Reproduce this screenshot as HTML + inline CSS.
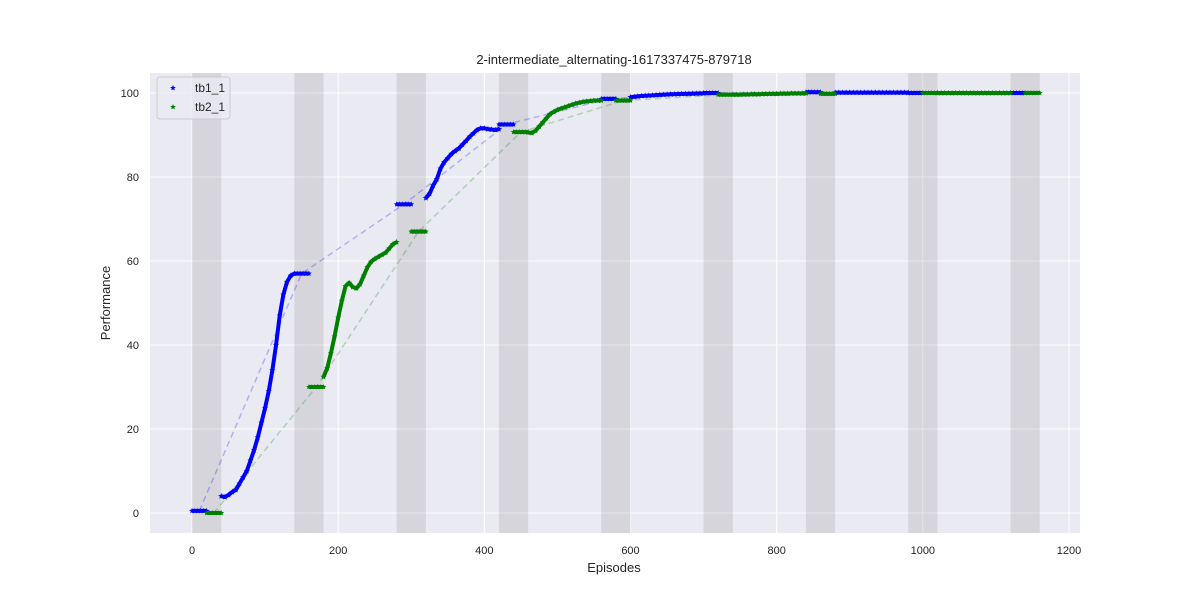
<!DOCTYPE html>
<html><head><meta charset="utf-8"><style>
body{margin:0;background:#fff;}
svg{display:block;font-family:"Liberation Sans","DejaVu Sans",sans-serif;}
</style></head><body>
<svg id="chart" width="1200" height="600" viewBox="0 0 1200 600">
<rect x="150" y="73" width="930" height="460" fill="#eaeaf2"/>
<g id="grid"></g><g id="bands"></g><g id="dashes"></g><g id="series"></g><g id="axes"></g>
<text x="614" y="64" text-anchor="middle" font-size="13" fill="#262626">2-intermediate_alternating-1617337475-879718</text>
<text x="614" y="572" text-anchor="middle" font-size="13" fill="#262626">Episodes</text>
<text x="110" y="303" text-anchor="middle" font-size="13" fill="#262626" transform="rotate(-90 110 303)">Performance</text>
<g>
<rect x="157" y="77" width="73" height="42" rx="3" fill="#eaeaf2" fill-opacity="0.8" stroke="#cccccc"/>
<g><polygon id="lg1" fill="#0000ff"/><text x="195" y="92" font-size="12" fill="#262626">tb1_1</text></g>
<g><polygon id="lg2" fill="#008000"/><text x="195" y="111" font-size="12" fill="#262626">tb2_1</text></g>
</g>
</svg>
<script>
// ---- data ----
const xTicks=[0,200,400,600,800,1000,1200];
const yTicks=[0,20,40,60,80,100];
const bandStarts=[0,140,280,420,560,700,840,980,1120];
// flat evaluation segments [start,end,value]
const tb1Flat=[[0,20,0.5],[140,160,57],[280,300,73.5],[420,440,92.5],[560,580,98.6],[700,720,100],[840,860,100.2],[980,1000,100],[1120,1140,100]];
const tb2Flat=[[20,40,0],[160,180,30],[300,320,67],[440,460,90.7],[580,600,98.2],[720,740,99.6],[860,880,99.8],[1000,1020,100],[1140,1160,100]];
// training segments: start episode, step 5, values
const tb1TrainStarts=[40,320,600,880];
const tb1TrainVals=[
[4,3.8,4.3,5,5.5,7,8.5,10,12.5,15,18,21.5,25,29,34,40,47,52,55,56.5,57],
[75,76,78,79.5,82,83.5,84.5,85.5,86.2,86.8,87.7,88.6,89.6,90.4,91.2,91.6,91.6,91.4,91.3,91.2,91.4],
[99,99.1,99.2,99.3,99.35,99.4,99.45,99.5,99.55,99.6,99.65,99.7,99.72,99.75,99.78,99.8,99.82,99.85,99.87,99.9,99.9],
[100.1,100.1,100.1,100.1,100.1,100.1,100.1,100.1,100.1,100.1,100.1,100.1,100.1,100.1,100.1,100.1,100.1,100.1,100.1,100.1,100.1]];
const tb2TrainStarts=[180,460,740,1020];
const tb2TrainVals=[
[32.4,34.5,38,42,46.5,50.5,54,54.8,53.8,53.5,54.5,56.5,58.5,59.8,60.5,61,61.5,62,63,64,64.5],
[90.6,90.5,91,92,93,94,95,95.5,96,96.3,96.6,96.9,97.2,97.5,97.7,97.9,98,98.1,98.2,98.2,98.2],
[99.6,99.6,99.6,99.65,99.65,99.7,99.7,99.7,99.75,99.75,99.8,99.8,99.8,99.85,99.85,99.85,99.9,99.9,99.9,99.9,99.9],
[100,100,100,100,100,100,100,100,100,100,100,100,100,100,100,100,100,100,100,100,100]];
// ---- scales ----
const X=v=>192+v*(877/1200);
const Y=v=>513-v*4.2;
const NS="http://www.w3.org/2000/svg";
function mk(tag,attrs,parent){const e=document.createElementNS(NS,tag);for(const k in attrs)e.setAttribute(k,attrs[k]);parent.appendChild(e);return e;}
function star(cx,cy,r){let p=[];for(let i=0;i<10;i++){const a=-Math.PI/2+i*Math.PI/5;const rr=i%2?r*0.45:r;p.push((cx+rr*Math.cos(a)).toFixed(2)+","+(cy+rr*Math.sin(a)).toFixed(2));}return p.join(" ");}
const grid=document.getElementById('grid'),axes=document.getElementById('axes');
xTicks.forEach(t=>{
 const l=mk('line',{x1:X(t),x2:X(t),y1:73,y2:533,stroke:'#fff','stroke-width':1},grid);
 
 
 const tx=mk('text',{x:X(t),y:554,'text-anchor':'middle','font-size':11,fill:'#262626'},axes);tx.textContent=t;
 
 
});
yTicks.forEach(t=>{
 const l=mk('line',{x1:150,x2:1080,y1:Y(t),y2:Y(t),stroke:'#fff','stroke-width':1},grid);
 
 
 const tx=mk('text',{x:139,y:Y(t)+4,'text-anchor':'end','font-size':11,fill:'#262626'},axes);tx.textContent=t;
 
 
});
const bands=document.getElementById('bands');
bandStarts.forEach(s=>{
 [0,20].forEach(o=>{
  const r=mk('rect',{x:X(s+o),y:73,width:X(s+o+20)-X(s+o),height:460,fill:'#808080','fill-opacity':0.2},bands);
  
  
 });
});
const dashes=document.getElementById('dashes');
function dash(flat,col,name){
 const pts=flat.map(f=>X((f[0]+f[1])/2)+","+Y(f[2])).join(" ");
 const p=mk('polyline',{points:pts,fill:'none',stroke:col,'stroke-opacity':0.25,'stroke-width':1.5,'stroke-dasharray':'6,4'},dashes);
 
 
}
dash(tb1Flat,'#0000ff','tb1-trend-line');dash(tb2Flat,'#008000','tb2-trend-line');
const series=document.getElementById('series');
function drawSeries(flat,starts,vals,col,name){
 const g=mk('g',{},series);
 
 
 flat.forEach(f=>{
  mk('line',{x1:X(f[0]),x2:X(f[1]),y1:Y(f[2]),y2:Y(f[2]),stroke:col,'stroke-width':4},g);
  for(let e=f[0];e<=f[1];e+=4){mk('polygon',{points:star(X(e),Y(f[2]),3),fill:col},g);}
 });
 starts.forEach((s,i)=>{
  const pts=vals[i].map((v,j)=>X(s+j*5)+","+Y(v)).join(" ");
  mk('polyline',{points:pts,fill:'none',stroke:col,'stroke-width':4,'stroke-linejoin':'round'},g);
  vals[i].forEach((v,j)=>{mk('polygon',{points:star(X(s+j*5),Y(v),3.2),fill:col},g);});
 });
}
drawSeries(tb1Flat,tb1TrainStarts,tb1TrainVals,'#0000ff','tb1-series');
drawSeries(tb2Flat,tb2TrainStarts,tb2TrainVals,'#008000','tb2-series');
document.getElementById('lg1').setAttribute('points',star(173,88,3));
document.getElementById('lg2').setAttribute('points',star(173,107,3));
</script>
</body></html>
